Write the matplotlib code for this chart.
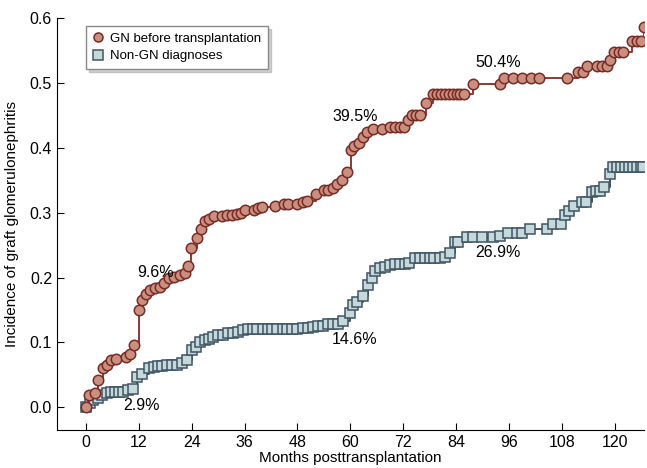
import matplotlib.pyplot as plt

plt.rcParams['font.family'] = ['Liberation Sans', 'DejaVu Sans']

# GN before transplantation (months, cumulative incidence)
gn_months = [0, 0.7, 2.0, 2.7, 3.9, 4.8, 5.7, 6.8, 9.1, 10.0, 10.9, 12.0, 12.7, 13.6,
             14.5, 15.6, 16.8, 17.7, 18.8, 20.0, 21.3, 22.5, 23.1, 23.8, 25.2, 26.1,
             27.0, 27.9, 29.0, 30.8, 32.0, 33.1, 34.3, 35.2, 36.1, 38.1, 39.0, 39.9,
             42.9, 44.9, 45.8, 47.9, 49.2, 50.1, 52.2, 54.0, 54.9, 56.0, 56.9, 58.1,
             59.2, 60.1, 60.8, 61.9, 62.9, 63.7, 65.1, 67.1, 69.0, 70.1, 71.2, 72.1,
             73.0, 74.0, 74.9, 75.8, 77.1, 78.7, 79.6, 80.5, 81.4, 82.3, 83.2, 84.1,
             85.0, 85.9, 87.8, 93.9, 94.9, 96.9, 98.9, 101.0, 102.8, 109.1, 111.6,
             112.8, 113.7, 115.9, 117.1, 118.2, 118.9, 119.8, 120.9, 122.0, 123.9,
             125.0, 125.9, 126.6]
gn_values = [0, 0.019, 0.022, 0.042, 0.060, 0.065, 0.073, 0.075, 0.077, 0.082, 0.096,
             0.150, 0.165, 0.174, 0.180, 0.184, 0.185, 0.191, 0.199, 0.201, 0.204,
             0.207, 0.218, 0.245, 0.261, 0.275, 0.287, 0.290, 0.295, 0.295, 0.296,
             0.297, 0.298, 0.299, 0.304, 0.304, 0.307, 0.309, 0.310, 0.313, 0.313,
             0.313, 0.316, 0.318, 0.329, 0.334, 0.335, 0.338, 0.344, 0.350, 0.363,
             0.397, 0.403, 0.407, 0.417, 0.424, 0.429, 0.429, 0.432, 0.432, 0.432,
             0.432, 0.443, 0.451, 0.451, 0.451, 0.469, 0.483, 0.483, 0.483, 0.483,
             0.483, 0.483, 0.483, 0.483, 0.483, 0.498, 0.498, 0.508, 0.508, 0.508,
             0.508, 0.508, 0.508, 0.517, 0.517, 0.526, 0.526, 0.526, 0.526, 0.535,
             0.548, 0.548, 0.548, 0.565, 0.565, 0.565, 0.586]

# Non-GN diagnoses
ngn_months = [0, 0.9, 1.6, 2.7, 3.6, 4.8, 5.7, 6.6, 7.5, 8.4, 9.5, 10.7, 11.6, 12.7,
              14.3, 15.4, 16.3, 17.2, 18.4, 19.5, 20.6, 21.8, 22.9, 24.0, 25.0, 25.9,
              27.0, 28.0, 28.8, 29.9, 31.0, 32.2, 33.3, 34.5, 35.6, 36.7, 37.8, 38.9,
              40.1, 41.2, 42.3, 43.4, 44.6, 45.7, 46.8, 48.0, 49.2, 50.3, 51.5, 52.6,
              53.7, 54.9, 56.0, 57.2, 58.3, 59.9, 60.6, 61.6, 62.8, 64.0, 64.9, 65.6,
              66.7, 67.8, 69.0, 70.1, 71.2, 72.3, 73.3, 74.6, 75.7, 76.9, 78.0, 79.1,
              80.3, 81.4, 82.6, 83.7, 84.4, 86.4, 87.8, 89.8, 92.3, 93.9, 95.7, 97.8,
              98.9, 100.7, 104.6, 105.9, 107.8, 108.7, 109.6, 110.7, 112.5, 113.4,
              114.8, 115.7, 116.6, 117.5, 118.9, 119.6, 120.5, 121.4, 122.3, 123.2,
              124.1, 125.0, 125.9, 126.4]
ngn_values = [0, 0.006, 0.011, 0.014, 0.019, 0.022, 0.023, 0.023, 0.023, 0.024, 0.026,
              0.029, 0.046, 0.052, 0.060, 0.062, 0.063, 0.063, 0.065, 0.065, 0.066,
              0.068, 0.073, 0.088, 0.093, 0.100, 0.103, 0.105, 0.108, 0.111, 0.112,
              0.114, 0.115, 0.116, 0.119, 0.120, 0.120, 0.120, 0.120, 0.120, 0.120,
              0.120, 0.120, 0.120, 0.120, 0.120, 0.122, 0.123, 0.124, 0.125, 0.126,
              0.128, 0.128, 0.128, 0.133, 0.146, 0.158, 0.163, 0.171, 0.188, 0.199,
              0.210, 0.214, 0.216, 0.219, 0.221, 0.221, 0.221, 0.222, 0.230, 0.230,
              0.230, 0.230, 0.230, 0.230, 0.232, 0.238, 0.255, 0.255, 0.262, 0.262,
              0.262, 0.262, 0.264, 0.268, 0.268, 0.268, 0.275, 0.275, 0.282, 0.282,
              0.296, 0.302, 0.310, 0.316, 0.316, 0.332, 0.333, 0.333, 0.340, 0.360,
              0.370, 0.370, 0.370, 0.370, 0.370, 0.370, 0.370, 0.370, 0.370]

# annotations
labels = ['9.6%', '39.5%', '50.4%', '2.9%', '14.6%', '26.9%']
label_x = [15.7, 61.0, 93.5, 12.5, 61.0, 93.5]
label_y = [0.207, 0.448, 0.531, 0.003, 0.105, 0.239]

fig = plt.figure(figsize=(6.47, 4.68), dpi=100)
ax = fig.add_axes([0.088, 0.081, 0.907, 0.881])

ax.plot(gn_months, gn_values, drawstyle='steps-post', color='#8b3a34', lw=1.4,
        marker='o', ms=7.5, mfc='#c9907f', mec='#7a2a25', mew=1.1,
        label='GN before transplantation', zorder=3)
ax.plot(ngn_months, ngn_values, drawstyle='steps-post', color='#3f5564', lw=1.4,
        marker='s', ms=7, mfc='#c5d9db', mec='#3f5564', mew=1.1,
        label='Non-GN diagnoses', zorder=2)

for t, x, y in zip(labels, label_x, label_y):
    ax.text(x, y, t, ha='center', va='center', fontsize=11.5)

ax.set_xlim(-6.6, 126.6)
ax.set_ylim(-0.035, 0.6)
ax.set_xticks(range(0, 121, 12))
ax.set_yticks([0.0, 0.1, 0.2, 0.3, 0.4, 0.5, 0.6])
ax.set_yticklabels(['0.0', '0.1', '0.2', '0.3', '0.4', '0.5', '0.6'])
ax.tick_params(direction='in', labelsize=11.5, length=5)
ax.spines['top'].set_visible(False)
ax.spines['right'].set_visible(False)
ax.set_xlabel('Months posttransplantation', fontsize=11, labelpad=1)
ax.set_ylabel('Incidence of graft glomerulonephritis', fontsize=11, labelpad=8)

leg = ax.legend(loc='upper left', bbox_to_anchor=(0.05, 0.98), borderaxespad=0,
                fontsize=9.5, fancybox=False, shadow={'ox': 2, 'oy': -2, 'alpha': 0.25},
                edgecolor='#888888', handlelength=0.8, handletextpad=0.5,
                borderpad=0.5, labelspacing=0.4)
for line in leg.get_lines():
    line.set_linestyle('none')
    line.set_markersize(6.5)

fig.savefig('out.png', dpi=100)
